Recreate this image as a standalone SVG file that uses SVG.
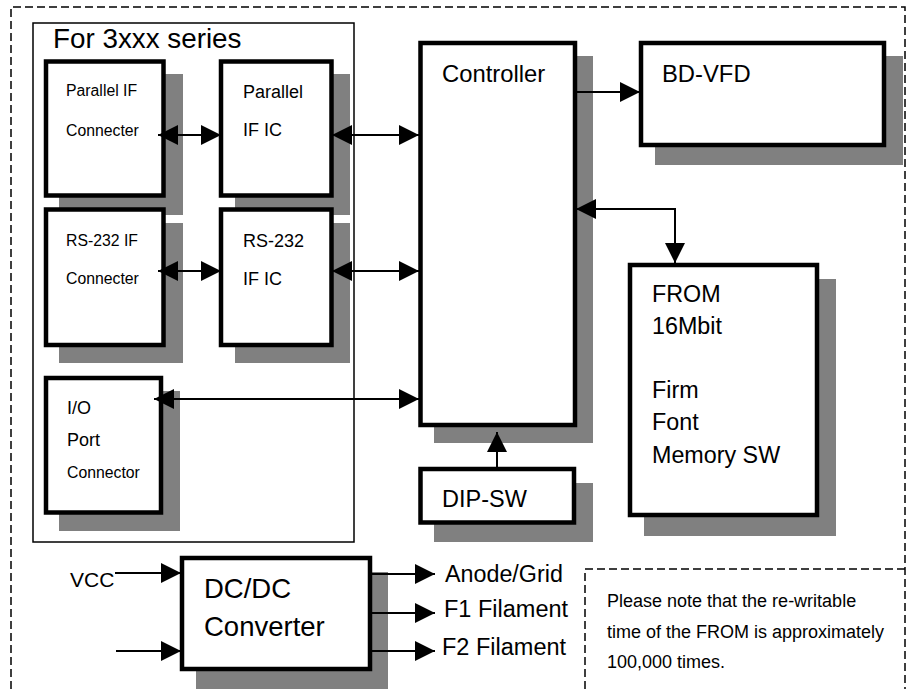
<svg xmlns="http://www.w3.org/2000/svg" width="907" height="689" viewBox="0 0 907 689">
<defs>
<style>
text{font-family:"Liberation Sans",Arial,sans-serif;fill:#000}
.sh{fill:#808080;stroke:none}
.bx{fill:#fff;stroke:#000;stroke-width:4.5}
.grp{fill:none;stroke:#000;stroke-width:1.5}
.dash{fill:none;stroke:#000;stroke-width:1.5;stroke-dasharray:8 4}
.ln{fill:none;stroke:#000;stroke-width:2}
.bi{marker-start:url(#ah);marker-end:url(#ah)}
.one{marker-end:url(#ah)}
</style>
<marker id="ah" markerUnits="userSpaceOnUse" markerWidth="20" markerHeight="20" refX="20" refY="10" orient="auto-start-reverse">
<path d="M0,0 L20,10 L0,20 z" fill="#000"/>
</marker>
</defs>
<rect width="907" height="689" fill="#fff"/>
<path class="dash" d="M11,689 V7 H905 V689"/>
<g id="series-group">
<rect class="grp" x="33" y="23" width="321" height="519"/>
<text x="53" y="48" font-size="27.8">For 3xxx series</text>
</g>
<g id="parallel-if-connecter">
<rect class="sh" x="59" y="74" width="124" height="141"/>
<rect class="bx" x="46" y="61.5" width="117.5" height="134"/>
<text x="66" y="96" font-size="15.8">Parallel IF</text>
<text x="66" y="136" font-size="15.8">Connecter</text>
</g>
<g id="parallel-if-ic">
<rect class="sh" x="235" y="74" width="115" height="141"/>
<rect class="bx" x="221" y="61.5" width="110.5" height="134"/>
<text x="243" y="98" font-size="18">Parallel</text>
<text x="243" y="136" font-size="18">IF IC</text>
</g>
<g id="rs232-if-connecter">
<rect class="sh" x="59" y="223" width="124" height="140"/>
<rect class="bx" x="46" y="209.5" width="117.5" height="135.5"/>
<text x="66" y="246" font-size="15.8">RS-232 IF</text>
<text x="66" y="284" font-size="15.8">Connecter</text>
</g>
<g id="rs232-if-ic">
<rect class="sh" x="235" y="223" width="115" height="140"/>
<rect class="bx" x="221" y="209.5" width="110.5" height="135.5"/>
<text x="243" y="247" font-size="18">RS-232</text>
<text x="243" y="285" font-size="18">IF IC</text>
</g>
<g id="io-port-connector">
<rect class="sh" x="59" y="391" width="121" height="140"/>
<rect class="bx" x="46" y="378" width="115" height="134.5"/>
<text x="67" y="414" font-size="18">I/O</text>
<text x="67" y="446" font-size="18">Port</text>
<text x="67" y="478" font-size="15.8">Connector</text>
</g>
<g id="controller">
<rect class="sh" x="434" y="56" width="159" height="387"/>
<rect class="bx" x="420.5" y="43" width="154.5" height="382"/>
<text x="442" y="82" font-size="23.8">Controller</text>
</g>
<g id="bd-vfd">
<rect class="sh" x="655" y="56" width="248" height="109"/>
<rect class="bx" x="641" y="43" width="243" height="102"/>
<text x="662" y="82" font-size="23.8">BD-VFD</text>
</g>
<g id="from">
<rect class="sh" x="644" y="279" width="192" height="257"/>
<rect class="bx" x="630" y="265" width="187" height="250"/>
<text x="652" y="302" font-size="23.3">FROM</text>
<text x="652" y="334" font-size="23.3">16Mbit</text>
<text x="652" y="398" font-size="23.3">Firm</text>
<text x="652" y="430" font-size="23.3">Font</text>
<text x="652" y="463" font-size="23.3">Memory SW</text>
</g>
<g id="dip-sw">
<rect class="sh" x="434" y="483" width="159" height="59"/>
<rect class="bx" x="420.5" y="469" width="153.5" height="53.5"/>
<text x="442" y="507" font-size="23.5">DIP-SW</text>
</g>
<g id="dcdc-converter">
<rect class="sh" x="196" y="572" width="192" height="120"/>
<rect class="bx" x="182" y="558" width="188" height="111"/>
<text x="204" y="598" font-size="27.5">DC/DC</text>
<text x="204" y="636" font-size="27.5">Converter</text>
</g>
<g id="connectors">
<path class="ln bi" d="M158,135 H221"/>
<path class="ln bi" d="M332,135 H419"/>
<path class="ln bi" d="M158,271 H221"/>
<path class="ln bi" d="M332,271 H419"/>
<path class="ln bi" d="M154,399 H419"/>
<path class="ln one" d="M577,92 H640"/>
<path class="ln bi" d="M675,263 V209 H576"/>
<path class="ln one" d="M497,467 V432"/>
<path class="ln one" d="M115,573 H181"/>
<path class="ln one" d="M116,651 H181"/>
<path class="ln one" d="M372,574 H435"/>
<path class="ln one" d="M372,613 H435"/>
<path class="ln one" d="M372,651 H435"/>
</g>
<g id="labels">
<text x="70" y="587" font-size="21">VCC</text>
<text x="445" y="582" font-size="23.3">Anode/Grid</text>
<text x="444" y="617" font-size="23.5">F1 Filament</text>
<text x="442" y="655" font-size="23.5">F2 Filament</text>
</g>
<g id="note">
<path class="dash" d="M585,689 V569 H905"/>
<text x="607" y="607" font-size="18">Please note that the re-writable</text>
<text x="607" y="638" font-size="18">time of the FROM is approximately</text>
<text x="607" y="668" font-size="18">100,000 times.</text>
</g>
</svg>
